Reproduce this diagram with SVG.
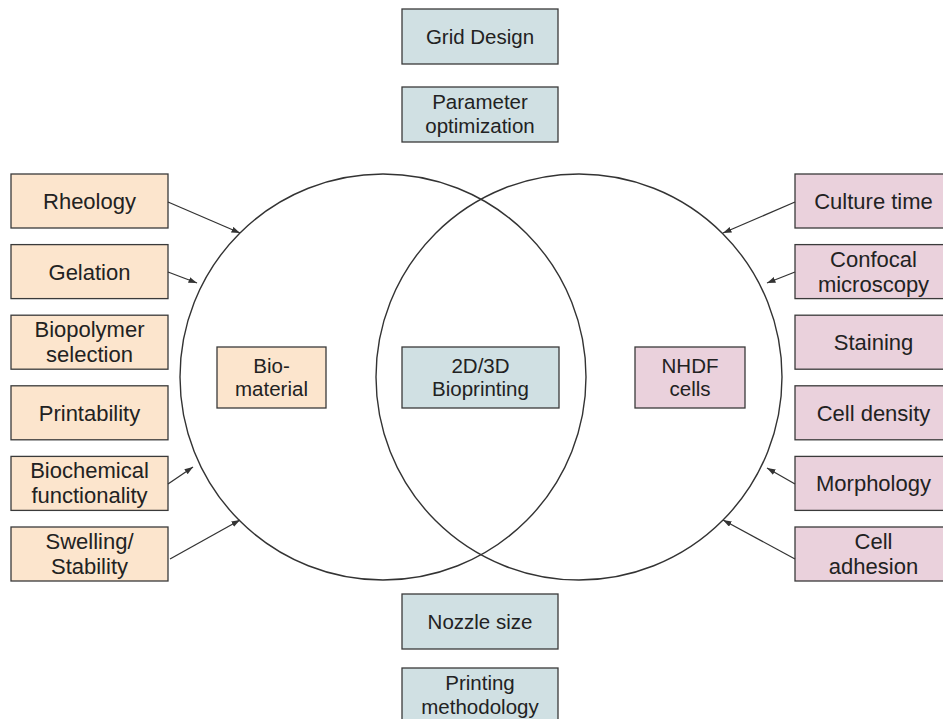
<svg xmlns="http://www.w3.org/2000/svg" width="943" height="719" viewBox="0 0 943 719">
<defs>
<marker id="arr" markerUnits="userSpaceOnUse" markerWidth="9" markerHeight="7" refX="8.5" refY="3" orient="auto">
<path d="M0,0 L8.5,3 L0,6 z" fill="#333"/>
</marker>
<style>
.o{fill:#fce5cd;stroke:#3a3a3a;stroke-width:1.3}
.p{fill:#ead1dc;stroke:#3a3a3a;stroke-width:1.3}
.b{fill:#d0e0e3;stroke:#3a3a3a;stroke-width:1.3}
.ring{fill:none;stroke:#333;stroke-width:1.4}
text{font-family:"Liberation Sans",Arial,sans-serif;fill:#222;text-anchor:middle}
.s{font-size:22px}
.c{font-size:20.5px}
.con line{stroke:#333;stroke-width:1.3;marker-end:url(#arr)}
</style>
</defs>
<rect width="943" height="719" fill="#fff"/>

<g id="circle-biomaterial"><circle class="ring" cx="383" cy="377" r="203"/></g>
<g id="circle-cells"><circle class="ring" cx="579" cy="377" r="203"/></g>

<g id="grid-design"><rect class="b" x="402" y="9" width="156" height="55"/><text class="c" x="480" y="44">Grid Design</text></g>
<g id="parameter-optimization"><rect class="b" x="402" y="87" width="156" height="55"/><text class="c" x="480" y="109">Parameter</text><text class="c" x="480" y="133">optimization</text></g>
<g id="nozzle-size"><rect class="b" x="402" y="594" width="156" height="55"/><text class="c" x="480" y="629">Nozzle size</text></g>
<g id="printing-methodology"><rect class="b" x="402" y="668" width="156" height="55"/><text class="c" x="480" y="690">Printing</text><text class="c" x="480" y="714">methodology</text></g>

<g id="biomaterial"><rect class="o" x="217" y="347" width="109" height="61"/><text class="c" x="271.5" y="372.5">Bio-</text><text class="c" x="271.5" y="396">material</text></g>
<g id="bioprinting"><rect class="b" x="402" y="347" width="157" height="61"/><text class="c" x="480.5" y="372.5">2D/3D</text><text class="c" x="480.5" y="396">Bioprinting</text></g>
<g id="nhdf-cells"><rect class="p" x="635" y="347" width="110" height="61"/><text class="c" x="690" y="372.5">NHDF</text><text class="c" x="690" y="396">cells</text></g>

<g id="rheology"><rect class="o" x="11" y="174" width="157" height="54"/><text class="s" x="89.5" y="209">Rheology</text></g>
<g id="gelation"><rect class="o" x="11" y="244.6" width="157" height="54"/><text class="s" x="89.5" y="279.6">Gelation</text></g>
<g id="biopolymer-selection"><rect class="o" x="11" y="315.2" width="157" height="54"/><text class="s" x="89.5" y="337.2">Biopolymer</text><text class="s" x="89.5" y="362.2">selection</text></g>
<g id="printability"><rect class="o" x="11" y="385.8" width="157" height="54"/><text class="s" x="89.5" y="420.8">Printability</text></g>
<g id="biochemical-functionality"><rect class="o" x="11" y="456.4" width="157" height="54"/><text class="s" x="89.5" y="478.4">Biochemical</text><text class="s" x="89.5" y="503.4">functionality</text></g>
<g id="swelling-stability"><rect class="o" x="11" y="527" width="157" height="54"/><text class="s" x="89.5" y="549">Swelling/</text><text class="s" x="89.5" y="574">Stability</text></g>

<g id="culture-time"><rect class="p" x="795" y="174" width="157" height="54"/><text class="s" x="873.5" y="209">Culture time</text></g>
<g id="confocal-microscopy"><rect class="p" x="795" y="244.6" width="157" height="54"/><text class="s" x="873.5" y="266.6">Confocal</text><text class="s" x="873.5" y="291.6">microscopy</text></g>
<g id="staining"><rect class="p" x="795" y="315.2" width="157" height="54"/><text class="s" x="873.5" y="350.2">Staining</text></g>
<g id="cell-density"><rect class="p" x="795" y="385.8" width="157" height="54"/><text class="s" x="873.5" y="420.8">Cell density</text></g>
<g id="morphology"><rect class="p" x="795" y="456.4" width="157" height="54"/><text class="s" x="873.5" y="491.4">Morphology</text></g>
<g id="cell-adhesion"><rect class="p" x="795" y="527" width="157" height="54"/><text class="s" x="873.5" y="549">Cell</text><text class="s" x="873.5" y="574">adhesion</text></g>

<g id="connectors" class="con">
<line x1="168" y1="202" x2="240" y2="233"/>
<line x1="168" y1="272" x2="197" y2="283"/>
<line x1="168" y1="484" x2="193" y2="467"/>
<line x1="170" y1="559" x2="240" y2="520"/>
<line x1="795" y1="202" x2="723" y2="233"/>
<line x1="795" y1="272" x2="767" y2="283"/>
<line x1="795" y1="484" x2="767" y2="468"/>
<line x1="795" y1="559" x2="723" y2="520"/>
</g>
</svg>
